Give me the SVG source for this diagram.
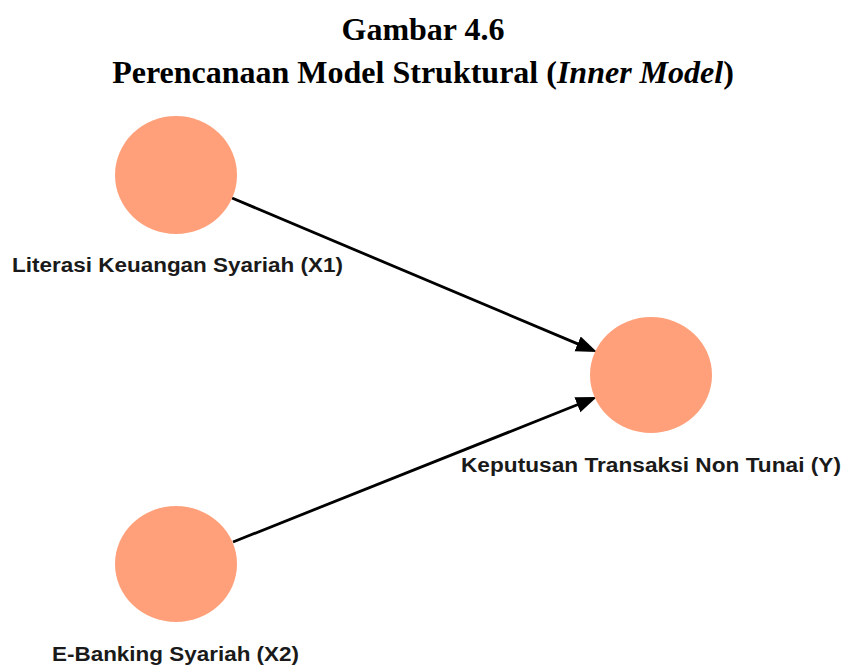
<svg xmlns="http://www.w3.org/2000/svg" width="846" height="666" viewBox="0 0 846 666">
<style>
.title{font-family:"Liberation Serif","Times New Roman",serif;font-weight:bold;font-size:32px;fill:#000}
.node{fill:#FFA07A}
.lbl{font-family:"Liberation Sans",Arial,sans-serif;font-weight:bold;font-size:19.5px;fill:#1a1a1a}
.edge{stroke:#000;stroke-width:2.8;fill:none}
</style>
<defs>
<marker id="arr" markerUnits="userSpaceOnUse" markerWidth="24" markerHeight="18" refX="4" refY="8" orient="auto">
<path d="M0,0 L21,8 L0,16 z" fill="#000"/>
</marker>
</defs>
<rect width="846" height="666" fill="#fff"/>
<text class="title" x="423" y="40" text-anchor="middle">Gambar 4.6</text>
<text class="title" x="423" y="83" text-anchor="middle">Perencanaan Model Struktural (<tspan font-style="italic">Inner Model</tspan>)</text>
<g id="connectors">
<line class="edge" x1="232" y1="198" x2="581.3" y2="345.4" marker-end="url(#arr)"/>
<line class="edge" x1="233" y1="542" x2="581.1" y2="403.3" marker-end="url(#arr)"/>
</g>
<g id="node-x1">
<ellipse class="node" cx="176" cy="175" rx="61" ry="59"/>
<text class="lbl" x="12" y="272" textLength="331" lengthAdjust="spacingAndGlyphs">Literasi Keuangan Syariah (X1)</text>
</g>
<g id="node-y">
<ellipse class="node" cx="651" cy="375" rx="61" ry="58"/>
<text class="lbl" x="461" y="472" textLength="380" lengthAdjust="spacingAndGlyphs">Keputusan Transaksi Non Tunai (Y)</text>
</g>
<g id="node-x2">
<ellipse class="node" cx="176" cy="564" rx="61" ry="58"/>
<text class="lbl" x="52" y="661" textLength="247" lengthAdjust="spacingAndGlyphs">E-Banking Syariah (X2)</text>
</g>
</svg>
